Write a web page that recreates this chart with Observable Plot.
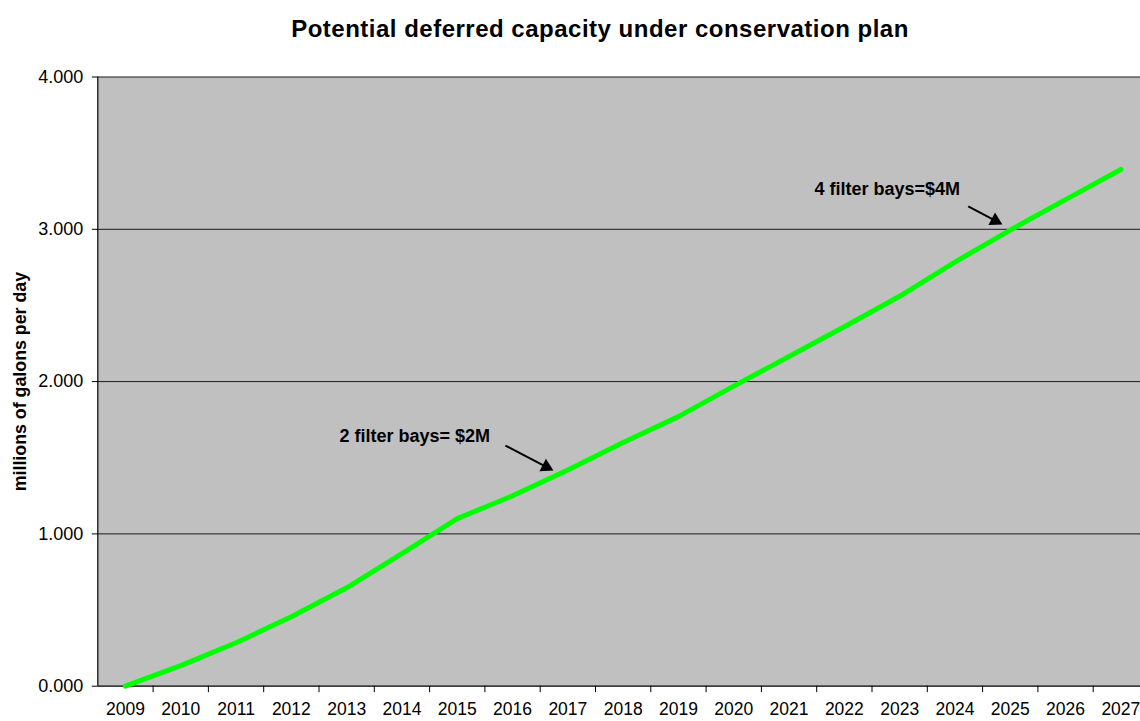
<!DOCTYPE html>
<html>
<head>
<meta charset="utf-8">
<script src="https://cdn.jsdelivr.net/npm/d3@7"></script>
<script src="https://cdn.jsdelivr.net/npm/@observablehq/plot@0.6"></script>
<style>
  html, body { margin: 0; padding: 0; background: #fff; overflow: hidden; width: 1140px; height: 721px; }
  #wrap { position: relative; width: 1140px; height: 721px; }
  #title { position: absolute; top: 15px; left: 0; width: 1200px; text-align: center;
    font: bold 24px "Liberation Sans", Arial, sans-serif; letter-spacing: 0.5px; color: #000; }
  #chart { position: absolute; top: 0; left: 0; }
  #chart svg { max-width: none !important; }
</style>
</head>
<body>
<div id="wrap">
  <div id="chart"></div>
  <div id="title">Potential deferred capacity under conservation plan</div>
</div>
<script>
const years = [2009, 2010, 2011, 2012, 2013, 2014, 2015, 2016, 2017, 2018, 2019, 2020, 2021, 2022, 2023, 2024, 2025, 2026, 2027];
const capacity = [0, 0.135, 0.285, 0.456, 0.646, 0.87, 1.10, 1.25, 1.42, 1.60, 1.77, 1.97, 2.165, 2.36, 2.56, 2.785, 2.995, 3.195, 3.393];
const yTicks = [0, 1, 2, 3, 4];
const yTitle = "millions of galons per day";

const noteText = ["2 filter bays= $2M", "4 filter bays=$4M"];
const noteX = [2012.87, 2021.46];
const noteY = [1.64, 3.26];
const arrowX1 = [2015.87, 2024.24];
const arrowY1 = [1.58, 3.15];
const arrowX2 = [2016.74, 2024.86];
const arrowY2 = [1.416, 3.032];
const headFrac = [0.85, 0.79];
const headAngle = [117.5, 117.9];

const data = years.map((y, i) => ({year: y, value: capacity[i]}));
const notes = noteText.map((t, i) => ({text: t, x: noteX[i], y: noteY[i]}));
const arrows = noteText.map((t, i) => ({
  x1: arrowX1[i], y1: arrowY1[i], x2: arrowX2[i], y2: arrowY2[i],
  hx: arrowX1[i] + (arrowX2[i] - arrowX1[i]) * headFrac[i],
  hy: arrowY1[i] + (arrowY2[i] - arrowY1[i]) * headFrac[i],
  rot: headAngle[i]
}));
const halfYears = years.slice(0, -1).map(y => y + 0.5);

const xDomain = [years[0] - 0.5, years[years.length - 1] + 0.5];

const chart = Plot.plot({
  width: 1150,
  height: 721,
  marginLeft: 97.3,
  marginRight: 2,
  marginTop: 76.5,
  marginBottom: 35.3,
  style: {fontFamily: "'Liberation Sans', Arial, sans-serif", background: "transparent", color: "#000"},
  x: {type: "linear", domain: xDomain},
  y: {domain: [0, 4]},
  marks: [
    Plot.frame({fill: "#c0c0c0", stroke: null}),
    Plot.gridY(yTicks.slice(1), {stroke: "#1a1a1a", strokeOpacity: 1, strokeWidth: 1}),
    Plot.ruleX([xDomain[0]], {stroke: "#000", strokeWidth: 1.2}),
    Plot.ruleY([0], {stroke: "#000", strokeWidth: 1.2}),
    Plot.axisY({ticks: yTicks, tickFormat: d3.format(".3f"), tickSize: 5.5, tickPadding: 9, fontSize: 18, label: null, stroke: "#000"}),
    Plot.axisX({ticks: years, tickFormat: d => String(d), tickSize: 0, tickPadding: 16, fontSize: 17.5, label: null}),
    Plot.axisX({ticks: halfYears, tickFormat: () => "", tickSize: 6.5, label: null, stroke: "#000"}),
    Plot.line(data, {x: "year", y: "value", stroke: "#00ff00", strokeWidth: 5, strokeLinejoin: "round", strokeLinecap: "round"}),
    Plot.link(arrows, {x1: "x1", y1: "y1", x2: "hx", y2: "hy", stroke: "#000", strokeWidth: 2}),
    Plot.dot(arrows, {x: "hx", y: "hy", symbol: "triangle", r: 5.2, fill: "#000", stroke: null, rotate: "rot"}),
    Plot.text(notes, {x: "x", y: "y", text: "text", textAnchor: "start", lineAnchor: "middle", fontSize: 18, fontWeight: "bold", fill: "#000"}),
    Plot.text([yTitle], {frameAnchor: "left", textAnchor: "middle", dx: -78, rotate: -90, fontSize: 17.8, fontWeight: "bold", fill: "#000"})
  ]
});
chart.style.maxWidth = "none";
document.getElementById("chart").appendChild(chart);
</script>
</body>
</html>
